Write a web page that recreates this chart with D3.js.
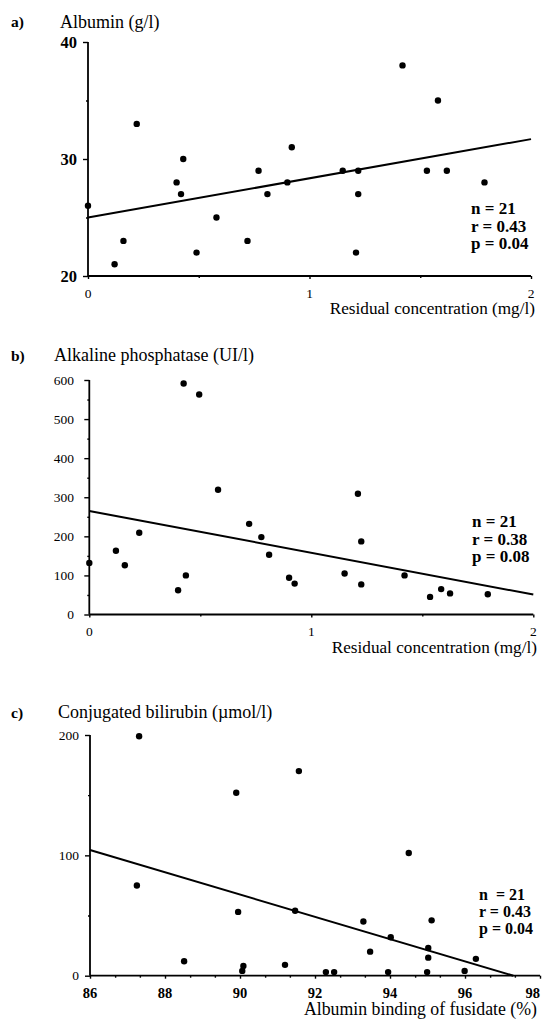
<!DOCTYPE html>
<html>
<head>
<meta charset="utf-8">
<script src="https://cdn.jsdelivr.net/npm/d3@7"></script>
<style>
  html, body { margin: 0; padding: 0; background: #fff; }
  svg { display: block; }
  text { font-family: "Liberation Serif", "Times New Roman", serif; fill: #000; }
</style>
</head>
<body>
<script>
// ---------- DATA ----------
// Panel a: Albumin (g/l) vs residual concentration (mg/l)
const albuminX = [0, 0.12, 0.16, 0.22, 0.40, 0.42, 0.43, 0.49, 0.58, 0.72, 0.77, 0.81, 0.90, 0.92, 1.15, 1.21, 1.22, 1.22, 1.42, 1.53, 1.58, 1.62, 1.79];
const albuminY = [26, 21, 23, 33, 28, 27, 30, 22, 25, 23, 29, 27, 28, 31, 29, 22, 29, 27, 38, 29, 35, 29, 28];
const albuminFitX = [0, 2];
const albuminFitY = [25.0, 31.7];
const albuminStats = ["n = 21", "r = 0.43", "p = 0.04"];

// Panel b: Alkaline phosphatase (UI/l) vs residual concentration (mg/l)
const alpX = [0, 0.12, 0.16, 0.225, 0.40, 0.425, 0.435, 0.495, 0.58, 0.72, 0.775, 0.81, 0.90, 0.925, 1.15, 1.21, 1.225, 1.225, 1.42, 1.535, 1.585, 1.625, 1.795];
const alpY = [132, 163, 126, 209, 62, 591, 100, 563, 319, 232, 198, 153, 94, 79, 105, 309, 187, 77, 100, 45, 65, 54, 52];
const alpFitX = [0, 2];
const alpFitY = [265, 51];
const alpStats = ["n = 21", "r = 0.38", "p = 0.08"];

// Panel c: Conjugated bilirubin (µmol/l) vs albumin binding of fusidate (%)
const bilX = [87.31, 87.25, 88.51, 89.90, 89.95, 90.09, 90.06, 91.20, 91.47, 91.57, 92.29, 92.51, 93.29, 93.47, 93.95, 94.02, 94.50, 94.99, 95.02, 95.02, 95.11, 95.99, 96.29];
const bilY = [199, 75, 12, 152, 53, 8, 4, 9, 54, 170, 3, 3, 45, 20, 3, 32, 102, 3, 23, 15, 46, 4, 14];
const bilFitX = [86, 97.29];
const bilFitY = [104.4, 0];
const bilStats = ["n  = 21", "r = 0.43", "p = 0.04"];

// Ticks
const residTicks = [0, 1, 2];
const residMinor = [0.5, 1.5];
const albuminTicks = [20, 30, 40];
const albuminMinor = [25, 35];
const alpTicks = [0, 100, 200, 300, 400, 500, 600];
const alpMinor = [50, 150, 250, 350, 450, 550];
const bindTicks = [86, 88, 90, 92, 94, 96, 98];
const bindMinor = [86.67, 87.33, 88.67, 89.33, 90.67, 91.33, 92.67, 93.33, 94.67, 95.33, 96.67, 97.33];
const bilTicks = [0, 100, 200];
const bilMinor = [50, 150];

// Labels
const panelLetters = ["a)", "b)", "c)"];
const yTitles = ["Albumin (g/l)", "Alkaline phosphatase (UI/l)", "Conjugated bilirubin (\u00B5mol/l)"];
const xTitles = ["Residual concentration (mg/l)", "Residual concentration (mg/l)", "Albumin binding of fusidate (%)"];

// ---------- DRAW ----------
const W = 543, H = 1022;
const svg = d3.select("body").append("svg").attr("width", W).attr("height", H);

const panels = [
  {
    xs: albuminX, ys: albuminY, fx: albuminFitX, fy: albuminFitY, stats: albuminStats,
    xDomain: [0, 2], yDomain: [20, 40], xTicks: residTicks, xMinor: residMinor, yTicks: albuminTicks, yMinor: albuminMinor,
    letter: panelLetters[0], yTitle: yTitles[0], xTitle: xTitles[0],
    layout: { x0: 88, x1: 531, y0: 276, y1: 42, letterY: 27, titleY: 28, titleX: 60,
              yLabRight: 77, yLabSize: 16.5, yLabWeight: "bold", xLabY: 298, xLabSize: 13.5, xLabWeight: "normal",
              xTitleY: 314, xTitleRight: 535, xTitleSize: 17.2, statsX: 471, statsY: 214, statsDy: 17.5, statsSize: 17 }
  },
  {
    xs: alpX, ys: alpY, fx: alpFitX, fy: alpFitY, stats: alpStats,
    xDomain: [0, 2], yDomain: [0, 600], xTicks: residTicks, xMinor: residMinor, yTicks: alpTicks, yMinor: alpMinor,
    letter: panelLetters[1], yTitle: yTitles[1], xTitle: xTitles[1],
    layout: { x0: 89.3, x1: 533.3, y0: 614.5, y1: 380, letterY: 361, titleY: 361, titleX: 54,
              yLabRight: 74, yLabSize: 13.5, yLabWeight: "normal", xLabY: 636, xLabSize: 13.5, xLabWeight: "normal",
              xTitleY: 653, xTitleRight: 537, xTitleSize: 17.2, statsX: 472, statsY: 527, statsDy: 17.5, statsSize: 17 }
  },
  {
    xs: bilX, ys: bilY, fx: bilFitX, fy: bilFitY, stats: bilStats,
    xDomain: [86, 98], yDomain: [0, 200], xTicks: bindTicks, xMinor: bindMinor, yTicks: bilTicks, yMinor: bilMinor,
    letter: panelLetters[2], yTitle: yTitles[2], xTitle: xTitles[2],
    layout: { x0: 90, x1: 540, y0: 975.7, y1: 735, letterY: 718, titleY: 718, titleX: 58,
              yLabRight: 79, yLabSize: 13.5, yLabWeight: "normal", xLabY: 998, xLabSize: 14.5, xLabWeight: "bold",
              xTitleY: 1015, xTitleRight: 537, xTitleSize: 17.8, statsX: 479, statsY: 900, statsDy: 17, statsSize: 16 }
  }
];

panels.forEach(p => {
  const L = p.layout;
  const x = d3.scaleLinear().domain(p.xDomain).range([L.x0, L.x1]);
  const y = d3.scaleLinear().domain(p.yDomain).range([L.y0, L.y1]);
  const g = svg.append("g");

  // Axes (D3 axes)
  const yAxis = d3.axisLeft(y).tickValues(p.yTicks).tickSize(5).tickFormat("");
  const yG = g.append("g").attr("transform", `translate(${L.x0},0)`).call(yAxis);
  const yMinorG = g.append("g").attr("transform", `translate(${L.x0},0)`)
    .call(d3.axisLeft(y).tickValues(p.yMinor).tickSize(2).tickFormat(""));
  const xAxis = d3.axisBottom(x).tickValues(p.xTicks).tickSize(3).tickFormat("");
  const xG = g.append("g").attr("transform", `translate(0,${L.y0})`).call(xAxis);
  const xMinorG = g.append("g").attr("transform", `translate(0,${L.y0})`)
    .call(d3.axisBottom(x).tickValues(p.xMinor).tickSize(2).tickFormat(""));

  [yG, yMinorG, xG, xMinorG].forEach(a => {
    a.select(".domain").attr("stroke", "#000").attr("stroke-width", 1.8);
    a.selectAll(".tick line").attr("stroke", "#000").attr("stroke-width", 1.4);
  });
  yMinorG.select(".domain").remove();
  xMinorG.select(".domain").remove();
  yG.select(".domain").attr("d", `M0,${L.y0}V${L.y1}`);
  xG.select(".domain").attr("d", `M${L.x0},0H${L.x1}`);

  // Tick labels
  g.append("g").selectAll("text").data(p.yTicks).join("text")
    .attr("x", L.yLabRight).attr("y", d => y(d))
    .attr("dy", "0.35em").attr("text-anchor", "end")
    .attr("font-size", L.yLabSize).attr("font-weight", L.yLabWeight)
    .text(d => d);
  g.append("g").selectAll("text").data(p.xTicks).join("text")
    .attr("x", d => Math.min(x(d), W - 1))
    .attr("y", L.xLabY)
    .attr("text-anchor", d => (x(d) + 8 > W ? "end" : "middle"))
    .attr("font-size", L.xLabSize).attr("font-weight", L.xLabWeight)
    .text(d => d);

  // Regression line
  const fit = p.fx.map((d, i) => [d, p.fy[i]]);
  g.append("path").datum(fit)
    .attr("d", d3.line().x(d => x(d[0])).y(d => y(d[1])))
    .attr("fill", "none").attr("stroke", "#000").attr("stroke-width", 2);

  // Points
  const pts = p.xs.map((d, i) => [d, p.ys[i]]);
  g.append("g").selectAll("circle").data(pts).join("circle")
    .attr("cx", d => x(d[0])).attr("cy", d => y(d[1])).attr("r", 3.2)
    .attr("fill", "#000");

  // Panel letter and title
  g.append("text").attr("x", 11).attr("y", L.letterY)
    .attr("font-size", 15.5).attr("font-weight", "bold").text(p.letter);
  g.append("text").attr("x", L.titleX).attr("y", L.titleY)
    .attr("font-size", 18).text(p.yTitle);

  // X axis title
  g.append("text").attr("x", L.xTitleRight).attr("y", L.xTitleY)
    .attr("text-anchor", "end").attr("font-size", L.xTitleSize).text(p.xTitle);

  // Stats
  g.append("g").selectAll("text").data(p.stats).join("text")
    .attr("x", L.statsX).attr("y", (d, i) => L.statsY + i * L.statsDy)
    .attr("font-size", L.statsSize).attr("font-weight", "bold")
    .attr("xml:space", "preserve").style("white-space", "pre")
    .text(d => d);
});
</script>
</body>
</html>
